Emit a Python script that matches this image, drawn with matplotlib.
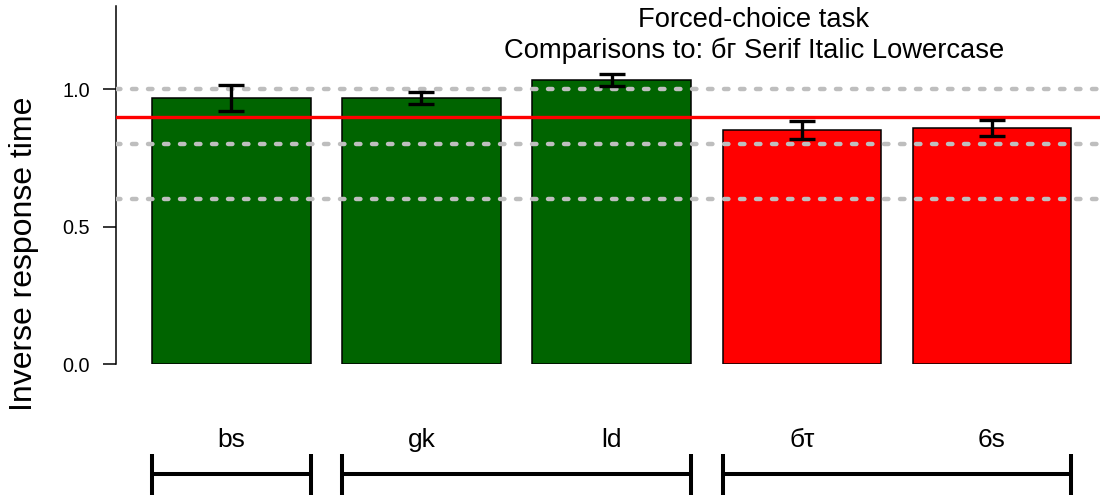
import matplotlib
matplotlib.use("Agg")
import matplotlib.pyplot as plt
import matplotlib.transforms as mtransforms
import numpy as np

plt.rcParams['font.family'] = ['Liberation Sans', 'DejaVu Sans']

# Data
labels = ["bs", "gk", "ld", "бτ", "6s"]
means = [0.967, 0.966, 1.033, 0.851, 0.859]
errors = [0.047, 0.022, 0.022, 0.031, 0.029]
bar_colors = ["#006400", "#006400", "#006400", "#FF0000", "#FF0000"]
groups = [[0], [1, 2], [3, 4]]
reference_value = 0.90
guide_values = [0.6, 0.8, 1.0]
yticks = [0.0, 0.5, 1.0]
title_lines = ["Forced-choice task", "Comparisons to: бг Serif Italic Lowercase"]
ylabel = "Inverse response time"

W, H = 1100, 498
fig = plt.figure(figsize=(W / 100, H / 100), dpi=100)

# Axes placed in pixel terms
ax_left, ax_right, ax_top, ax_bottom = 116, 1100, 6, 364
ax = fig.add_axes([ax_left / W, 1 - ax_bottom / H,
                   (ax_right - ax_left) / W, (ax_bottom - ax_top) / H])

# Barplot layout: width 1, space 0.2
space, width = 0.2, 1.0
lefts = np.array([space + i * (width + space) for i in range(len(means))])
centers = lefts + width / 2

px_per_unit = 158.5
xmin = -(152 - 0.2 * px_per_unit - ax_left) / px_per_unit
xmax = xmin + (ax_right - ax_left) / px_per_unit
ax.set_xlim(xmin, xmax)
ax.set_ylim(0, (ax_bottom - ax_top) / 275.0)

ax.bar(centers, means, width=width, color=bar_colors, edgecolor="black",
       linewidth=1.1, zorder=2)

for v in guide_values:
    ax.axhline(v, color="#BEBEBE", linewidth=3.2, linestyle=(0, (1.0, 2.6)),
               dash_capstyle="round", zorder=3)
ax.axhline(reference_value, color="#FF0000", linewidth=2.4, zorder=4)

ax.errorbar(centers, means, yerr=errors, fmt="none", ecolor="black",
            elinewidth=2.4, capsize=9.4, capthick=2.4, zorder=5)

# Axis styling
for side in ["top", "right", "bottom"]:
    ax.spines[side].set_visible(False)
ax.spines["left"].set_linewidth(1.1)
ax.set_xticks([])
ax.set_yticks(yticks)
ax.set_yticklabels([f"{t:.1f}" for t in yticks])
ax.tick_params(axis="y", length=9.4, width=1.1, pad=9.5, labelsize=14.3)

fig.text(24 / W, 1 - 254 / H, ylabel, rotation=90, fontsize=23,
         ha="center", va="center")

# Title
fig.text(754 / W, 1 - 27 / H, title_lines[0], fontsize=19.7,
         ha="center", va="baseline")
fig.text(754 / W, 1 - 58 / H, title_lines[1], fontsize=19.7,
         ha="center", va="baseline")

# Category labels and group brackets below the plot
trans = mtransforms.blended_transform_factory(ax.transData, fig.transFigure)
for c, lab in zip(centers, labels):
    ax.text(c, 1 - 447 / H, lab, transform=trans, fontsize=19,
            ha="center", va="baseline", clip_on=False)

y_line = 1 - 474 / H
y_top, y_bot = 1 - 454 / H, 1 - 495 / H
for g in groups:
    x0 = lefts[g[0]]
    x1 = lefts[g[-1]] + width
    ax.plot([x0, x1], [y_line, y_line], color="black", linewidth=2.9,
            transform=trans, clip_on=False, solid_capstyle="butt")
    for xe in (x0, x1):
        ax.plot([xe, xe], [y_bot, y_top], color="black", linewidth=2.9,
                transform=trans, clip_on=False, solid_capstyle="butt")

fig.savefig("out.png", dpi=100)
